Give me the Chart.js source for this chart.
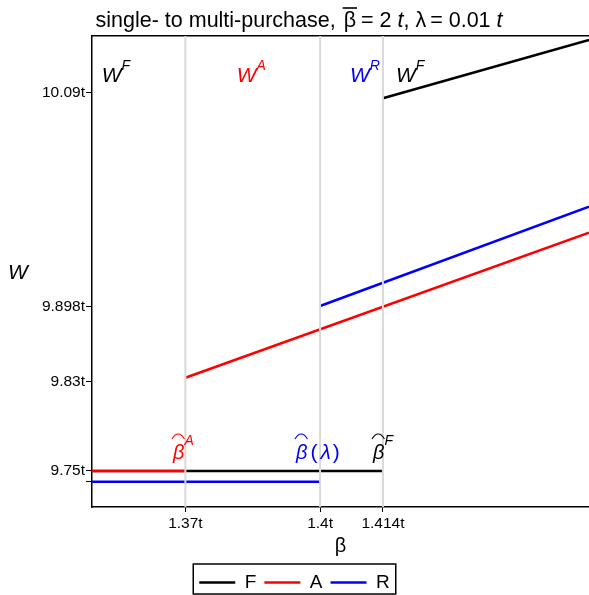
<!DOCTYPE html>
<html><head><meta charset="utf-8">
<script src="https://cdn.jsdelivr.net/npm/chart.js@4.4.1/dist/chart.umd.min.js"></script>
<style>html,body{margin:0;padding:0;background:#fff;}canvas{display:block;}</style>
</head><body>
<canvas id="c" width="589" height="595"></canvas>
<script>
// ---- data ----
const seriesNames  = ['F', 'A', 'R'];
const seriesColors = ['#000000', '#ff0000', '#0000ff'];
// each series: flat segment, gap (null), rising segment
const fBeta = [1.3492, 1.414, 1.414, 1.414, 1.4599];
const fW    = [9.75,   9.75,  null,  10.085, 10.1374];
const aBeta = [1.3492, 1.37,  1.37,  1.37,   1.4599];
const aW    = [9.75,   9.75,  null,  9.8338, 9.9642];
const rBeta = [1.3492, 1.4,   1.4,   1.4,    1.4599];
const rW    = [9.7403, 9.7403, null, 9.8983, 9.9876];

// threshold betas (grey guide lines) and axis ticks
const thresholdBeta = [1.37, 1.4, 1.414];
const xTickValues = [1.37, 1.4, 1.414];
const xTickLabels = ['1.37t', '1.4t', '1.414t'];
const yTickValues = [9.7403, 9.75, 9.83, 9.898, 10.09];
const yTickLabels = ['', '9.75t', '9.83t', '9.898t', '10.09t'];
const betaRange = [1.3492, 1.4599];
const wRange    = [9.7176, 10.1410];

// region labels (W^X) and threshold labels (hat beta)
const regionLabels = [
  {sup: 'F', color: '#000000', beta: 1.35136, w: 10.0994},
  {sup: 'A', color: '#ff0000', beta: 1.38143, w: 10.0994},
  {sup: 'R', color: '#0000ff', beta: 1.40667, w: 10.0994},
  {sup: 'F', color: '#000000', beta: 1.41691, w: 10.0994}
];
const thresholdLabels = [
  {sup: 'A', lam: false, color: '#ff0000', beta: 1.36724, w: 9.7607},
  {sup: '',  lam: true,  color: '#0000ff', beta: 1.39464, w: 9.7607},
  {sup: 'F', lam: false, color: '#000000', beta: 1.41179, w: 9.7607}
];

const FONT = "'Liberation Sans', Arial, sans-serif";

function toPts(xs, ys) { return xs.map((x, i) => ({x: x, y: ys[i]})); }
const guidePts = thresholdBeta.flatMap(b => [{x: b, y: wRange[0]}, {x: b, y: wRange[1]}, {x: b, y: null}]);

function drawRuns(ctx, runs, x, y, doDraw) {
  let cx = x;
  for (const r of runs) {
    ctx.font = r.font;
    const w = ctx.measureText(r.text).width;
    if (doDraw) {
      ctx.fillStyle = r.color || '#000';
      ctx.fillText(r.text, cx, y + (r.dy || 0));
      if (r.over) {
        ctx.strokeStyle = r.color || '#000';
        ctx.lineWidth = 1.6;
        ctx.beginPath();
        ctx.moveTo(cx - 1, y + r.over);
        ctx.lineTo(cx + w + 1, y + r.over);
        ctx.stroke();
      }
      if (r.hat) {
        ctx.strokeStyle = r.color || '#000';
        ctx.lineWidth = 1.1;
        const x0 = cx + (r.hatShift || 0), x1 = x0 + w + 1;
        const yb = y + r.hat, yt = yb - 5;
        const xm = (x0 + x1) / 2;
        ctx.beginPath();
        ctx.moveTo(x0, yb);
        ctx.quadraticCurveTo(x0 + (xm - x0) * 0.45, yt, xm, yt);
        ctx.quadraticCurveTo(x1 - (x1 - xm) * 0.45, yt, x1, yb);
        ctx.stroke();
      }
    }
    cx += w + (r.gap || 0);
  }
  return cx - x;
}

const decorPlugin = {
  id: 'decor',
  afterDraw(chart) {
    const ctx = chart.ctx;
    const xs = chart.scales.x, ys = chart.scales.y;
    ctx.save();
    ctx.textBaseline = 'alphabetic';
    ctx.textAlign = 'left';

    // title
    const tf = '21.5px ' + FONT, ti = 'italic 21.5px ' + FONT;
    const titleRuns = [
      {text: 'single- to multi-purchase, ', font: tf, gap: 2},
      {text: 'β', font: tf, over: -19, gap: 5},
      {text: '= 2 ', font: tf},
      {text: 't', font: ti},
      {text: ', ', font: tf},
      {text: 'λ', font: tf, gap: 4},
      {text: '= 0.01 ', font: tf},
      {text: 't', font: ti}
    ];
    const tw = drawRuns(ctx, titleRuns, 0, 0, false);
    drawRuns(ctx, titleRuns, 299 - tw / 2, 27, true);

    // y axis title
    ctx.font = 'italic 21px ' + FONT;
    ctx.fillStyle = '#000';
    ctx.fillText('W', 8, 279);

    // region labels
    for (const L of regionLabels) {
      const px = xs.getPixelForValue(L.beta), py = ys.getPixelForValue(L.w);
      drawRuns(ctx, [
        {text: 'W', font: 'italic 21px ' + FONT, color: L.color},
        {text: L.sup, font: 'italic 14px ' + FONT, color: L.color, dy: -12}
      ], px, py, true);
    }
    // threshold labels
    for (const L of thresholdLabels) {
      const px = xs.getPixelForValue(L.beta), py = ys.getPixelForValue(L.w);
      const runs = [{text: 'β', font: 'italic 20px ' + FONT, color: L.color, hat: -20, hatShift: -1, gap: L.lam ? 3 : 0}];
      if (L.sup) runs.push({text: L.sup, font: 'italic 14px ' + FONT, color: L.color, dy: -14});
      if (L.lam) {
        runs.push({text: '(', font: '21px ' + FONT, color: L.color, gap: 3});
        runs.push({text: 'λ', font: 'italic 21px ' + FONT, color: L.color, gap: 2});
        runs.push({text: ')', font: '21px ' + FONT, color: L.color});
      }
      drawRuns(ctx, runs, px, py, true);
    }

    // legend frame
    const hb = chart.legend && chart.legend.legendHitBoxes;
    if (hb && hb.length) {
      const l = hb[0].left - 6;
      const last = hb[hb.length - 1];
      const r = last.left + last.width + 6;
      const t = hb[0].top - 9;
      ctx.strokeStyle = '#000';
      ctx.lineWidth = 1.5;
      ctx.strokeRect(l, t, r - l, 30);
    }
    ctx.restore();
  }
};

new Chart(document.getElementById('c'), {
  type: 'line',
  data: {
    datasets: [
      {label: seriesNames[0], data: toPts(fBeta, fW), borderColor: seriesColors[0], backgroundColor: seriesColors[0], borderWidth: 2.6, pointRadius: 0, spanGaps: false, fill: false, order: 2},
      {label: seriesNames[1], data: toPts(aBeta, aW), borderColor: seriesColors[1], backgroundColor: seriesColors[1], borderWidth: 2.6, pointRadius: 0, spanGaps: false, fill: false, order: 1},
      {label: seriesNames[2], data: toPts(rBeta, rW), borderColor: seriesColors[2], backgroundColor: seriesColors[2], borderWidth: 2.6, pointRadius: 0, spanGaps: false, fill: false, order: 3},
      {label: 'thresholds', data: guidePts, borderColor: '#d9d9d9', borderWidth: 2, pointRadius: 0, spanGaps: false, fill: false, order: 0}
    ]
  },
  options: {
    responsive: false,
    animation: false,
    devicePixelRatio: 1,
    layout: {padding: {top: 36, left: 0, right: 0, bottom: -7}},
    plugins: {
      title: {display: false},
      tooltip: {enabled: false},
      legend: {
        position: 'bottom',
        labels: {
          usePointStyle: true, pointStyle: 'line', pointStyleWidth: 36, boxHeight: 19,
          font: {family: FONT, size: 19}, color: '#000', padding: 8,
          filter: item => item.datasetIndex < 3,
          sort: (a, b) => a.datasetIndex - b.datasetIndex
        }
      }
    },
    scales: {
      x: {
        type: 'linear', min: betaRange[0], max: betaRange[1],
        afterBuildTicks: s => { s.ticks = xTickValues.map(v => ({value: v})); },
        afterFit: s => { s.height = 58; },
        ticks: {callback: (v, i) => xTickLabels[i], font: {family: FONT, size: 15.5}, color: '#000', padding: 2, autoSkip: false, maxRotation: 0},
        grid: {color: 'rgba(0,0,0,0)', tickColor: '#000', tickLength: 5, tickWidth: 1},
        border: {color: '#000', width: 1.5},
        title: {display: true, text: 'β', font: {family: FONT, size: 20}, color: '#000', padding: {top: 0, bottom: 7}}
      },
      x2: {
        type: 'linear', position: 'top', min: betaRange[0], max: betaRange[1],
        afterBuildTicks: s => { s.ticks = [{value: betaRange[0]}]; },
        afterFit: s => { s.height = 0; },
        ticks: {display: false},
        grid: {color: 'rgba(0,0,0,0)', drawOnChartArea: false, drawTicks: false},
        border: {color: '#000', width: 1.5}
      },
      y: {
        type: 'linear', min: wRange[0], max: wRange[1],
        afterBuildTicks: s => { s.ticks = yTickValues.map(v => ({value: v})); },
        afterFit: s => { s.width = 92; },
        ticks: {callback: (v, i) => yTickLabels[i], font: {family: FONT, size: 15.5}, color: '#000', padding: 1, autoSkip: false},
        grid: {color: 'rgba(0,0,0,0)', tickColor: '#000', tickLength: 6, tickWidth: 1},
        border: {color: '#000', width: 1.5}
      }
    }
  },
  plugins: [decorPlugin]
});
</script>
</body></html>
